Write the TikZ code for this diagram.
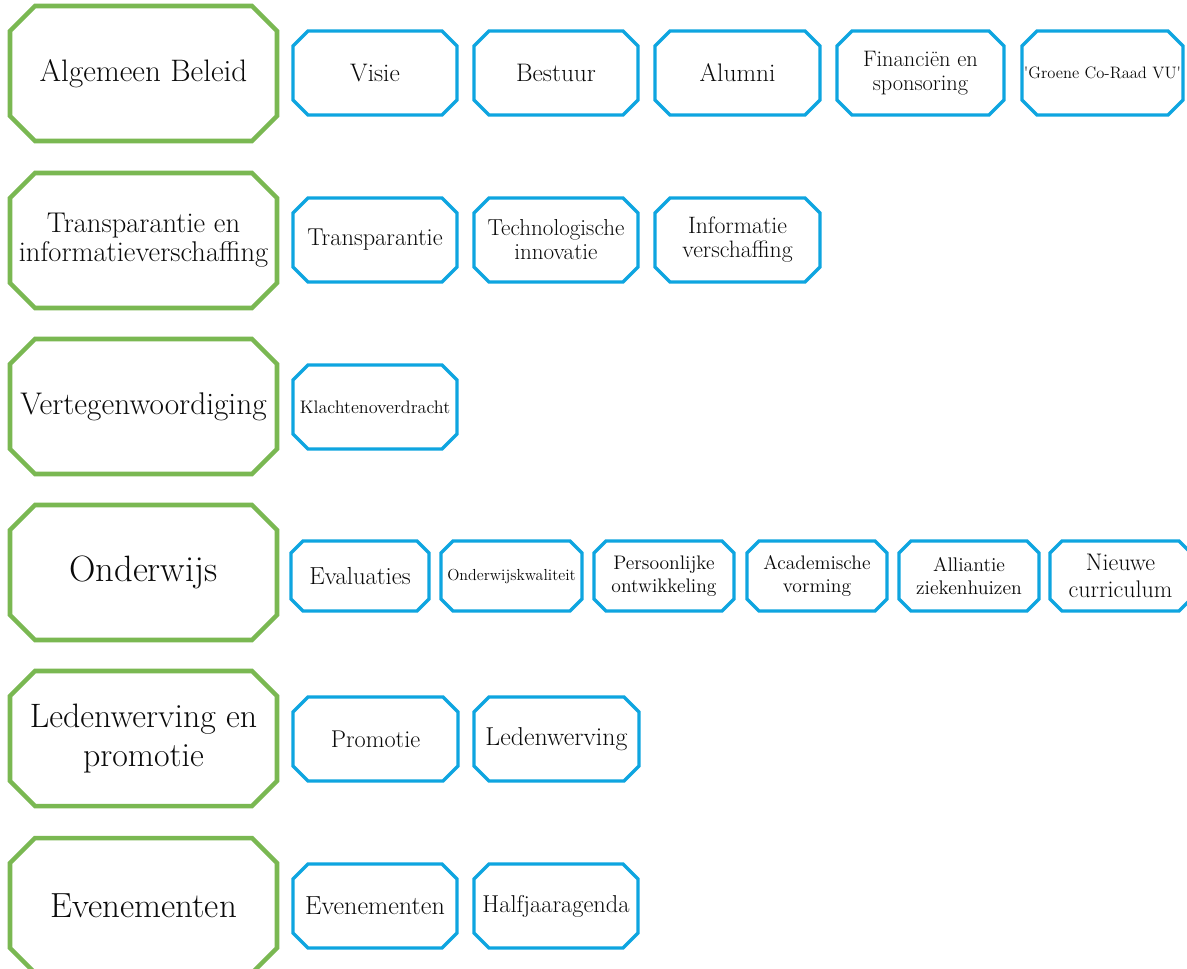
\documentclass[tikz,border=0pt]{standalone}
\usepackage{tikz}
\definecolor{grn}{RGB}{122,184,82}
\definecolor{blu}{RGB}{14,165,224}
\definecolor{ink}{RGB}{10,10,10}
\tikzset{
  x=0.75pt, y=-0.75pt,
  grnline/.style={draw=grn, line width=3.4pt, line join=miter, fill=white},
  bluline/.style={draw=blu, line width=2.5pt, line join=miter, fill=white},
  txt/.style={inner sep=0pt, align=center, text=ink},
}
% #1 name, #2 x1, #3 y1, #4 x2, #5 y2, #6 cut, #7 line style, #8 font, #9 text
\newcommand\octbox[9]{%
  \draw[#7] (#2+#6,#3) -- (#4-#6,#3) -- (#4,#3+#6) -- (#4,#5-#6) -- (#4-#6,#5) -- (#2+#6,#5) -- (#2,#5-#6) -- (#2,#3+#6) -- cycle;
  \node[txt, font=#8] (#1) at ({(#2+#4)/2},{(#3+#5)/2}) {#9};
}
\newcommand\fz[2]{\fontsize{#1pt}{#2pt}\selectfont}
\begin{document}
\begin{tikzpicture}
\useasboundingbox (0,0) rectangle (1187,968);
\clip (0,0) rectangle (1187,968);
\fill[white] (0,0) rectangle (1187,968);
% Row 1
\octbox{g1}{10}{6}{277}{141}{25}{grnline}{\fz{23.3}{27}}{Algemeen Beleid}
\octbox{b11}{293}{31}{457}{115}{15}{bluline}{\fz{19}{22}}{Visie}
\octbox{b12}{474}{31}{638}{115}{15}{bluline}{\fz{19}{22}}{Bestuur}
\octbox{b13}{655}{31}{820}{115}{15}{bluline}{\fz{19}{22}}{Alumni}
\octbox{b14}{837}{31}{1004}{115}{15}{bluline}{\fz{16.8}{18}}{Financiën en\\sponsoring}
\octbox{b15}{1022}{31}{1183}{115}{15}{bluline}{\fz{12.4}{15}}{\textquotesingle Groene Co-Raad VU\textquotesingle}
% Row 2
\octbox{g2}{10}{173}{277}{308}{25}{grnline}{\fz{21.4}{21.75}}{Transparantie en\\informatieverschaffing}
\octbox{b21}{293}{198}{457}{282}{15}{bluline}{\fz{18.3}{20}}{Transparantie}
\octbox{b22}{474}{198}{638}{282}{15}{bluline}{\fz{17.3}{18}}{Technologische\\innovatie}
\octbox{b23}{655}{198}{820}{282}{15}{bluline}{\fz{17.8}{18}}{Informatie\\verschaffing}
% Row 3
\octbox{g3}{10}{339}{277}{474}{25}{grnline}{\fz{23.5}{27}}{Vertegenwoordiging}
\octbox{b31}{293}{365}{457}{449}{15}{bluline}{\fz{13.6}{16}}{Klachtenoverdracht}
% Row 4
\octbox{g4}{10}{505}{277}{640}{25}{grnline}{\fz{27.5}{32}}{Onderwijs}
\octbox{b41}{291}{541}{429}{611}{12}{bluline}{\fz{18.5}{21}}{Evaluaties}
\octbox{b42}{441}{541}{582}{611}{12}{bluline}{\fz{12}{14}}{Onderwijskwaliteit}
\octbox{b43}{594}{541}{734}{611}{12}{bluline}{\fz{14.7}{17.3}}{Persoonlijke\\ontwikkeling}
\octbox{b44}{747}{541}{887}{611}{12}{bluline}{\fz{14.7}{17.3}}{Academische\\vorming}
\octbox{b45}{899}{541}{1039}{611}{12}{bluline}{\fz{14.8}{17.3}}{Alliantie\\ziekenhuizen}
\octbox{b46}{1050}{541}{1191}{611}{12}{bluline}{\fz{18}{20}}{Nieuwe\\curriculum}
% Row 5
\octbox{g5}{10}{671}{277}{806}{25}{grnline}{\fz{25.4}{29.25}}{Ledenwerving en\\promotie}
\octbox{b51}{293}{697}{458}{781}{15}{bluline}{\fz{18.2}{21}}{Promotie}
\octbox{b52}{474}{697}{639}{781}{15}{bluline}{\fz{19.4}{22}}{Ledenwerving}
% Row 6
\octbox{g6}{10}{838}{277}{973}{25}{grnline}{\fz{26.2}{30}}{Evenementen}
\octbox{b61}{293}{864}{457}{948}{15}{bluline}{\fz{19.6}{22}}{Evenementen}
\octbox{b62}{474}{864}{638}{948}{15}{bluline}{\fz{18.3}{21}}{Halfjaaragenda}
\end{tikzpicture}
\end{document}
